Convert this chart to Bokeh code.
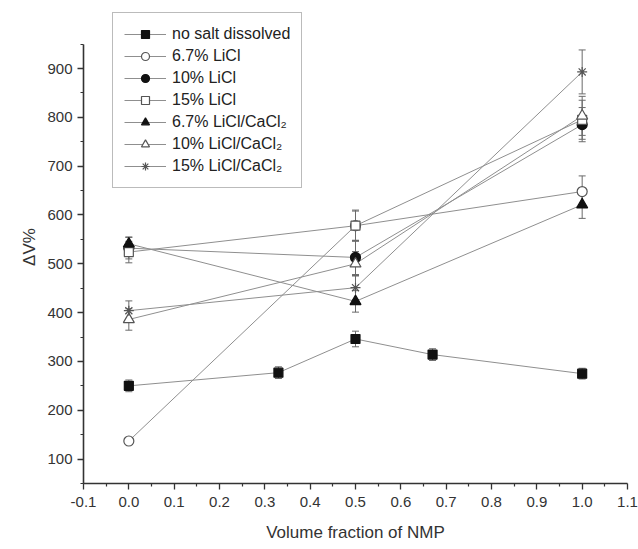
from bokeh.plotting import figure
from bokeh.models import (ColumnDataSource, Whisker, TeeHead, Legend, LegendItem,
                          Range1d, FixedTicker, NumeralTickFormatter)
from bokeh.embed import file_html
from bokeh.resources import INLINE

# ---------------- data ----------------
x_nosalt = [0.0, 0.33, 0.5, 0.67, 1.0]
y_nosalt = [250, 277, 346, 314, 275]
e_nosalt = [12, 12, 16, 12, 11]

x_salt = [0.0, 0.5, 1.0]
y_licl67 = [137, 578, 648]
e_licl67 = [6, 30, 32]
y_licl10 = [532, 513, 785]
e_licl10 = [22, 35, 35]
y_licl15 = [524, 578, 795]
e_licl15 = [22, 32, 40]
y_ca67 = [541, 423, 621]
e_ca67 = [14, 22, 28]
y_ca10 = [386, 500, 803]
e_ca10 = [22, 25, 40]
y_ca15 = [404, 451, 893]
e_ca15 = [20, 25, 45]

labels = ["no salt dissolved", "6.7% LiCl", "10% LiCl", "15% LiCl",
          "6.7% LiCl/CaCl\u2082", "10% LiCl/CaCl\u2082", "15% LiCl/CaCl\u2082"]

x_ticks = [-0.1, 0.0, 0.1, 0.2, 0.3, 0.4, 0.5, 0.6, 0.7, 0.8, 0.9, 1.0, 1.1]
x_minor = [-0.05, 0.05, 0.15, 0.25, 0.35, 0.45, 0.55, 0.65, 0.75, 0.85, 0.95, 1.05]
y_ticks = [100, 200, 300, 400, 500, 600, 700, 800, 900]
y_minor = [50, 150, 250, 350, 450, 550, 650, 750, 850, 950]

FONT = "Liberation Sans"
AX = "#333333"

p = figure(width=638, height=549, output_backend="svg", toolbar_location=None,
           x_range=Range1d(-0.1, 1.1), y_range=Range1d(50, 1018.8),
           min_border_left=83, min_border_right=11, min_border_top=10,
           min_border_bottom=66)
p.outline_line_color = None
p.grid.visible = False
p.background_fill_color = "white"
p.border_fill_color = "white"

for ax in (p.xaxis[0], p.yaxis[0]):
    ax.axis_line_color = AX
    ax.axis_line_width = 1.6
    ax.major_tick_line_color = AX
    ax.minor_tick_line_color = AX
    ax.major_tick_line_width = 1.3
    ax.minor_tick_line_width = 1.2
    ax.major_tick_in = 0
    ax.major_tick_out = 6
    ax.minor_tick_in = 0
    ax.minor_tick_out = 3
    ax.major_label_text_font = FONT
    ax.major_label_text_font_size = "15px"
    ax.major_label_text_color = AX
    ax.axis_label_text_font = FONT
    ax.axis_label_text_font_size = "17px"
    ax.axis_label_text_font_style = "normal"
    ax.axis_label_text_color = AX

p.xaxis.ticker = FixedTicker(ticks=x_ticks, minor_ticks=x_minor)
p.yaxis.ticker = FixedTicker(ticks=y_ticks, minor_ticks=y_minor)
p.xaxis.formatter = NumeralTickFormatter(format="0.0")
p.xaxis.bounds = (-0.1, 1.1)
p.yaxis.bounds = (50, 950)
p.xaxis.major_label_standoff = 7
p.yaxis.major_label_standoff = 5
p.xaxis.axis_label = "Volume fraction of NMP"
p.yaxis.axis_label = "\u0394V%"
p.xaxis.axis_label_standoff = 13
p.yaxis.axis_label_standoff = 5

LINE = "#8f8f8f"
ERR = "#6a6a6a"
DARK = "#111111"
OPEN = "#555555"

series = [
    (x_nosalt, y_nosalt, e_nosalt, "square", 9, DARK, DARK),
    (x_salt, y_licl67, e_licl67, "circle", 10, "white", OPEN),
    (x_salt, y_licl10, e_licl10, "circle", 10, DARK, DARK),
    (x_salt, y_licl15, e_licl15, "square", 9, "white", OPEN),
    (x_salt, y_ca67, e_ca67, "triangle", 11, DARK, DARK),
    (x_salt, y_ca10, e_ca10, "triangle", 11, "white", OPEN),
    (x_salt, y_ca15, e_ca15, "asterisk", 10, None, OPEN),
]

items = []
line_rs = []
for (xs, ys, es, marker, size, fill, lc), lab in zip(series, labels):
    src = ColumnDataSource(dict(x=xs, y=ys,
                                upper=[a + b for a, b in zip(ys, es)],
                                lower=[a - b for a, b in zip(ys, es)]))
    lr = p.line("x", "y", source=src, line_color=LINE, line_width=1)
    w = Whisker(source=src, base="x", upper="upper", lower="lower",
                dimension="height", line_color=ERR, line_width=1,
                upper_head=TeeHead(size=7, line_color=ERR, line_width=1),
                lower_head=TeeHead(size=7, line_color=ERR, line_width=1))
    p.add_layout(w)
    line_rs.append((lr, src, marker, size, fill, lc, lab))

for lr, src, marker, size, fill, lc, lab in line_rs:
    kw = dict(marker=marker, size=size, line_color=lc, line_width=1.2)
    if fill is None:
        kw["fill_alpha"] = 0
    else:
        kw["fill_color"] = fill
    sr = p.scatter("x", "y", source=src, **kw)
    items.append(LegendItem(label=lab, renderers=[lr, sr]))

legend = Legend(items=items, location=(29, 295))
legend.label_text_font = FONT
legend.label_text_font_size = "16px"
legend.label_text_color = "#222222"
legend.glyph_width = 42
legend.glyph_height = 20
legend.label_height = 20
legend.spacing = 2
legend.padding = 11
legend.margin = 0
legend.label_standoff = 6
legend.border_line_color = "#777777"
legend.border_line_width = 1.2
legend.background_fill_alpha = 1
p.add_layout(legend, "center")

open("out.html", "w").write(file_html(p, INLINE))
